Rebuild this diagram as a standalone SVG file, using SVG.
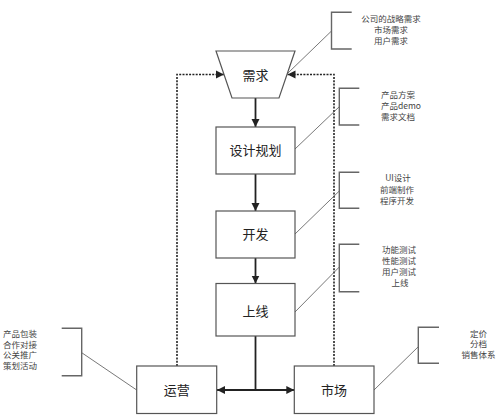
<svg xmlns="http://www.w3.org/2000/svg" width="500" height="420" viewBox="0 0 500 420">
<style>
.box{fill:#fff;stroke:#555;stroke-width:1.2}
.lbl{font-family:"Noto Sans CJK SC","Liberation Sans",sans-serif;font-size:13px;fill:#222;text-anchor:middle}
.note{font-family:"Noto Sans CJK SC","Liberation Sans",sans-serif;font-size:8.5px;fill:#444}
.mid{text-anchor:middle}
.arrow{fill:none;stroke:#222;stroke-width:1.8}
.dash{fill:none;stroke:#222;stroke-width:1.6;stroke-dasharray:2 1.3}
.brk{fill:none;stroke:#666;stroke-width:1.4}
.lead{fill:none;stroke:#555;stroke-width:0.8}
</style>
<defs>
<marker id="ah" markerUnits="userSpaceOnUse" markerWidth="10" markerHeight="10" viewBox="0 0 10 10" refX="8" refY="5" orient="auto">
<path d="M0,1 L8,5 L0,9 Z" fill="#222"/>
</marker>
</defs>
<g id="connectors">
<line class="arrow" x1="255.5" y1="98" x2="255.5" y2="127" marker-end="url(#ah)"/>
<line class="arrow" x1="255.5" y1="174" x2="255.5" y2="211" marker-end="url(#ah)"/>
<line class="arrow" x1="255.5" y1="258" x2="255.5" y2="283.5" marker-end="url(#ah)"/>
<line class="arrow" x1="255.5" y1="336" x2="255.5" y2="390"/>
<line class="arrow" x1="256" y1="390" x2="217" y2="390" marker-end="url(#ah)"/>
<line class="arrow" x1="255" y1="390" x2="294.3" y2="390" marker-end="url(#ah)"/>
<path class="dash" d="M177,366 V74.5 H224" marker-end="url(#ah)"/>
<path class="dash" d="M334,366 V74.5 H287.5" marker-end="url(#ah)"/>
<line class="lead" x1="331.5" y1="31" x2="288" y2="73"/>
<line class="lead" x1="339.3" y1="106.7" x2="295" y2="149"/>
<line class="lead" x1="339.3" y1="191" x2="295" y2="234"/>
<line class="lead" x1="339.3" y1="267" x2="295" y2="312"/>
<line class="lead" x1="81.7" y1="352.7" x2="136.7" y2="390"/>
<line class="lead" x1="418.3" y1="346.7" x2="374" y2="390"/>
</g>
<g id="node-xuqiu">
<polygon class="box" points="216,51 295,51 279,98 232,98"/>
<text class="lbl" x="255.5" y="80">需求</text>
</g>
<g id="node-sheji">
<rect class="box" x="216" y="127" width="79" height="47"/>
<text class="lbl" x="255.5" y="155">设计规划</text>
</g>
<g id="node-kaifa">
<rect class="box" x="216" y="211" width="79" height="47"/>
<text class="lbl" x="255.5" y="239">开发</text>
</g>
<g id="node-shangxian">
<rect class="box" x="216" y="283.5" width="79" height="52.5"/>
<text class="lbl" x="255.5" y="316">上线</text>
</g>
<g id="node-yunying">
<rect class="box" x="136.7" y="366" width="80" height="47.5"/>
<text class="lbl" x="176.7" y="394.5">运营</text>
</g>
<g id="node-shichang">
<rect class="box" x="294.3" y="366" width="79.7" height="47.5"/>
<text class="lbl" x="334" y="394.5">市场</text>
</g>
<g id="note-xuqiu">
<polyline class="brk" points="351.7,12.3 331.5,12.3 331.5,49 351.7,49"/>
<text class="note mid" x="391" y="22.2">公司的战略需求</text>
<text class="note mid" x="391" y="33">市场需求</text>
<text class="note mid" x="391" y="43.8">用户需求</text>
</g>
<g id="note-sheji">
<polyline class="brk" points="359.3,88.3 339.3,88.3 339.3,125 359.3,125"/>
<text class="note" x="381" y="98">产品方案</text>
<text class="note" x="381" y="109">产品demo</text>
<text class="note" x="381" y="120">需求文档</text>
</g>
<g id="note-kaifa">
<polyline class="brk" points="359.3,172.3 339.3,172.3 339.3,208.3 359.3,208.3"/>
<text class="note mid" x="398" y="181.3">UI设计</text>
<text class="note mid" x="397" y="193">前端制作</text>
<text class="note mid" x="397" y="203.7">程序开发</text>
</g>
<g id="note-shangxian">
<polyline class="brk" points="359.3,244.3 339.3,244.3 339.3,291.7 359.3,291.7"/>
<text class="note mid" x="399" y="253">功能测试</text>
<text class="note mid" x="399" y="264">性能测试</text>
<text class="note mid" x="399" y="275.3">用户测试</text>
<text class="note mid" x="400" y="286.3">上线</text>
</g>
<g id="note-yunying">
<polyline class="brk" points="61.7,328.3 81.7,328.3 81.7,375.7 61.7,375.7"/>
<text class="note" x="3" y="337">产品包装</text>
<text class="note" x="3" y="347.5">合作对接</text>
<text class="note" x="3" y="358">公关推广</text>
<text class="note" x="3" y="368.5">策划活动</text>
</g>
<g id="note-shichang">
<polyline class="brk" points="439,327.3 418.3,327.3 418.3,363.3 439,363.3"/>
<text class="note mid" x="478.5" y="336.5">定价</text>
<text class="note mid" x="478.5" y="347">分档</text>
<text class="note mid" x="478.5" y="357.8">销售体系</text>
</g>
</svg>
